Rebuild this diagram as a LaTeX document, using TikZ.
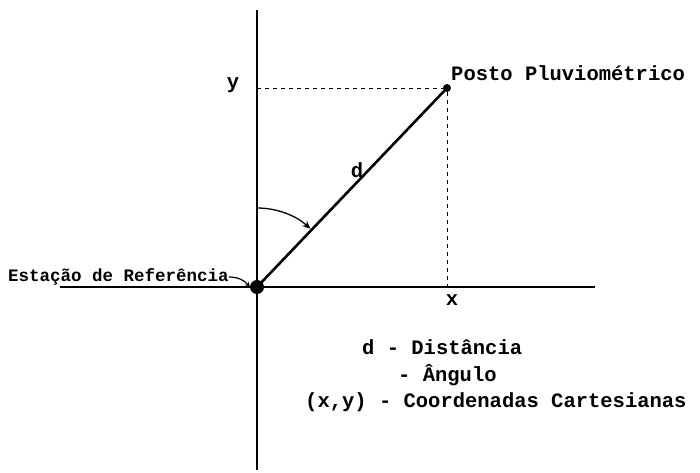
\documentclass[tikz,border=0pt]{standalone}
\usepackage{fontspec}
\setmonofont{Liberation Mono}
\usetikzlibrary{arrows.meta}
\tikzset{
  lbl/.style={font=\ttfamily\bfseries\fontsize{20.5}{22}\selectfont, inner sep=0pt},
  axis/.style={line width=1.8pt},
  guide/.style={line width=1pt, dash pattern=on 4pt off 4pt},
  dot/.style={circle, fill=black, inner sep=0pt},
}
\begin{document}
\begin{tikzpicture}[x=1pt,y=-1pt]
\useasboundingbox (0,0) rectangle (700,472);
% axes
\coordinate (ytop) at (257,10);
\coordinate (ybot) at (257,470);
\coordinate (xl) at (60,287);
\coordinate (xr) at (595,287);
\draw[axis] (ytop) -- (ybot);
\draw[axis] (xl) -- (xr);
% points
\node[dot, minimum size=14pt] (O) at (257,287) {};
\node[dot, minimum size=8pt] (P) at (447,88) {};
\coordinate (yp) at (257,88);
\coordinate (xp) at (447,287);
\draw[guide] (yp) -- (P);
\draw[guide] (P) -- (xp);
% vector
\draw[line width=2.6pt] (O.center) -- (P.center);
% angle arc
\coordinate (arcstart) at (257,208);
\draw[line width=1.3pt, -{Stealth[length=8pt,width=7pt]}] (arcstart) arc[start angle=-90, end angle=-47.5, radius=79];
% labels
\node[lbl] (ly) at (233,85) {y};
\node[lbl] (lx) at (452,300) {x};
\node[lbl] (ld) at (357,170) {d};
\node[lbl, anchor=west] (lp) at (451,73) {Posto Pluviométrico};
\node[lbl, anchor=west, font=\ttfamily\bfseries\fontsize{17.5}{20}\selectfont] (le) at (8,277) {Estação de Referência};
\draw[line width=1.2pt, -{Stealth[length=5pt,width=5pt]}] (le.east) to[bend left=25] (O.west);
% legend
\node[lbl, anchor=west] (l1) at (362,347) {d - Distância};
\node[lbl, anchor=west] (l2) at (398,375) {- Ângulo};
\node[lbl, anchor=west] (l3) at (305,402) {(x,y) - Coordenadas Cartesianas};
\end{tikzpicture}
\end{document}
